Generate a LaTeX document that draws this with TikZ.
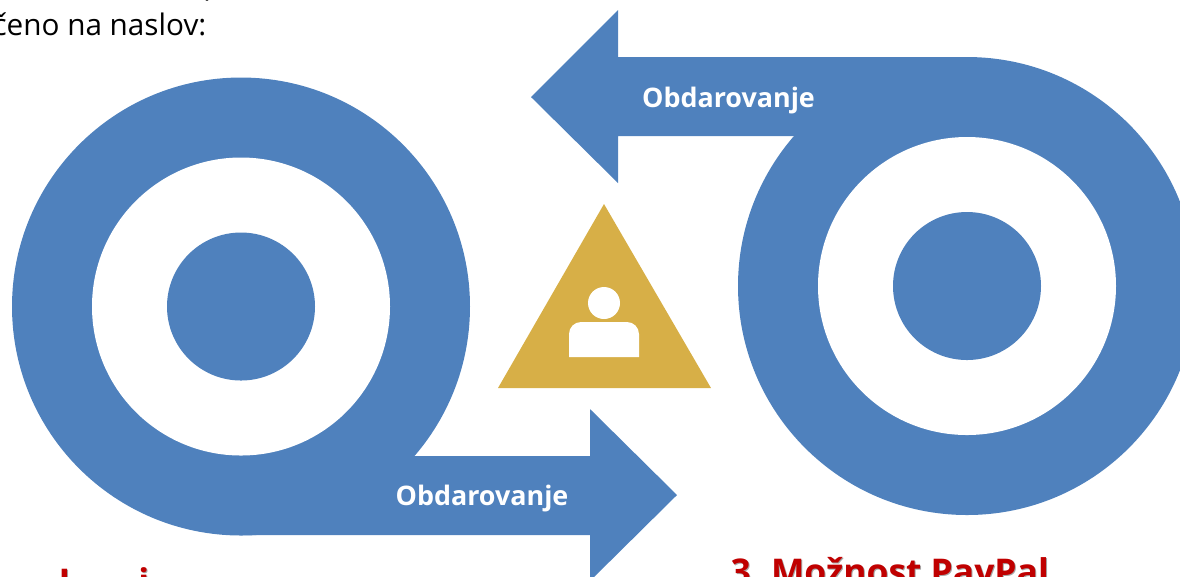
\documentclass[tikz,border=0pt]{standalone}
\usepackage{fontspec}
\setmainfont{Open Sans}

\definecolor{ringblue}{HTML}{4F81BD}
\definecolor{triangold}{HTML}{D7AF47}
\definecolor{titlered}{HTML}{C00000}

\tikzset{
	ring/.style={fill=ringblue},
	hole/.style={fill=white},
	gift/.style={text=white, font=\fontsize{7.65}{9}\selectfont\bfseries},
	bodytext/.style={text=black, font=\fontsize{8.45}{10}\selectfont, anchor=base east, inner sep=0pt},
	title/.style={text=titlered, font=\fontsize{10.08}{12}\selectfont\bfseries, anchor=base west, inner sep=0pt},
	titleshadow/.style={title, text=black!35}
}

\begin{document}
\begin{tikzpicture}[x=1cm, y=-1cm]
	\useasboundingbox (0, 0) rectangle (11.8, 5.76);

	% Levi krog s puscico
	\fill[ring] (2.41, 3.065) circle (2.29);
	\fill[ring] (2.41, 5.35) -- (5.90, 5.35) -- (5.90, 5.81) -- (6.77, 4.95) -- (5.90, 4.09) -- (5.90, 4.56) -- (4.15, 4.56) -- (2.41, 4.56) -- cycle;
	\fill[hole] (2.41, 3.065) circle (1.49);
	\fill[ring] (2.41, 3.065) circle (0.74);

	% Desni krog s puscico
	\fill[ring] (9.67, 2.86) circle (2.29);
	\fill[ring] (9.67, 0.57) -- (6.18, 0.57) -- (6.18, 0.10) -- (5.31, 0.97) -- (6.18, 1.83) -- (6.18, 1.36) -- (7.94, 1.36) -- (9.67, 1.36) -- cycle;
	\fill[hole] (9.67, 2.86) circle (1.49);
	\fill[ring] (9.67, 2.86) circle (0.74);

	% Trikotnik z osebo
	\fill[triangold] (6.04, 2.04) -- (7.11, 3.88) -- (4.98, 3.88) -- cycle;
	\fill[hole] (6.04, 3.03) circle (0.16);
	\fill[hole] (5.69, 3.57) [rounded corners=1.2mm] -- (5.69, 3.22) -- (6.39, 3.22) [sharp corners] -- (6.39, 3.57) -- cycle;

	\node[gift] (giftleft) at (4.82, 4.98) {Obdarovanje};
	\node[gift] (giftright) at (7.285, 1.00) {Obdarovanje};

	\node[bodytext] (address) at (2.07, 0.355) {čeno na naslov:};
	\node[bodytext] (bracket) at (2.10, -0.04) {(};

	\node[titleshadow] (leftshadow) at (0.59, 5.95) {I\hspace{0.68cm}i};
	\node[title] (lefttitle) at (0.58, 5.94) {I\hspace{0.68cm}i};
	\node[titleshadow] (paypalshadow) at (7.31, 5.85) {3.\hspace{1mm}Možnost PayPal};
	\node[title] (paypal) at (7.30, 5.84) {3.\hspace{1mm}Možnost PayPal};
\end{tikzpicture}
\end{document}
